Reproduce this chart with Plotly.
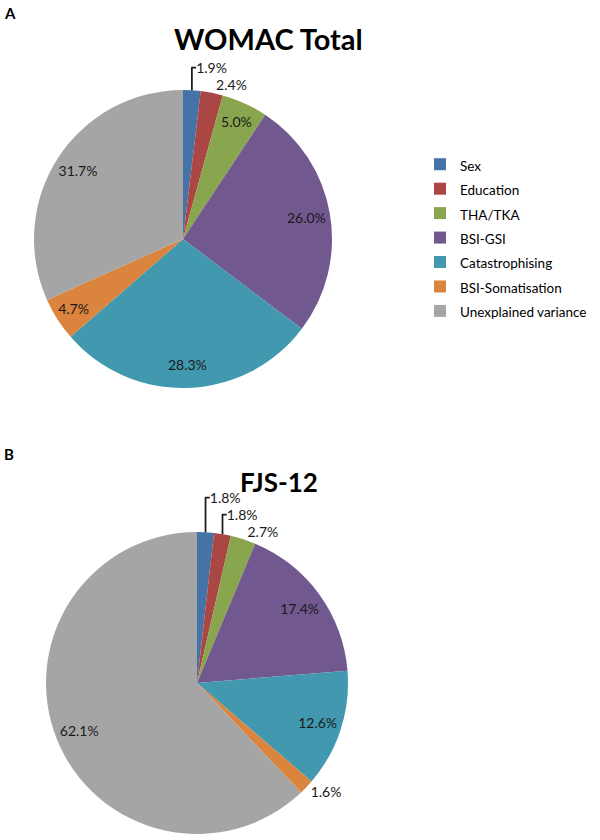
import plotly.graph_objects as go

categories = ["Sex", "Education", "THA/TKA", "BSI-GSI", "Catastrophising",
              "BSI-Somatisation", "Unexplained variance"]
womac_values = [1.9, 2.4, 5.0, 26.0, 28.3, 4.7, 31.7]
fjs_values = [1.8, 1.8, 2.7, 17.4, 12.6, 1.6, 62.1]
womac_textpos = ["outside", "outside", "inside", "inside", "inside", "inside", "inside"]
fjs_textpos = ["outside", "outside", "outside", "inside", "inside", "outside", "inside"]
colors = ["#4572A7", "#AA4643", "#89A54E", "#71588F", "#4198AF", "#DB843D", "#A5A5A5"]

FONT = "Lato"
W, H = 600, 840

def px_dom(x0, x1, ytop, ybot):
    return dict(x=[x0 / W, x1 / W], y=[(H - ybot) / H, (H - ytop) / H])

dom_a = px_dom(34, 332, 90, 388)
dom_b = px_dom(46, 348, 532, 834)

legend_labels = [f"<span style='font-size:13.5px'>{c}</span>" for c in categories]

fig = go.Figure()

for vals, dom, tpos, leg in [(womac_values, dom_a, womac_textpos, "legend"),
                             (fjs_values, dom_b, fjs_textpos, "legend2")]:
    fig.add_trace(go.Pie(
        labels=legend_labels, values=vals, domain=dom, sort=False,
        direction="clockwise", rotation=0,
        marker=dict(colors=colors, line=dict(width=0)),
        textinfo="none", legend=leg, showlegend=True, hoverinfo="skip",
    ))
    fig.add_trace(go.Pie(
        labels=legend_labels, values=vals, domain=dom, sort=False,
        direction="clockwise", rotation=0, hole=0.68,
        marker=dict(colors=["rgba(0,0,0,0)"] * len(vals), line=dict(width=0)),
        texttemplate="%{value:.1f}%", textposition=tpos,
        insidetextorientation="horizontal",
        textfont=dict(family=FONT, size=14, color="#1a1a1a"),
        showlegend=False, hoverinfo="skip",
    ))

fig.update_layout(
    width=W, height=H,
    margin=dict(l=0, r=0, t=0, b=0),
    paper_bgcolor="white", plot_bgcolor="white",
    font=dict(family=FONT, color="#000000"),
    uniformtext=dict(minsize=14, mode="show"),
    legend=dict(x=420 / W, y=(H - 147) / H, xanchor="left", yanchor="top",
                font=dict(family=FONT, size=16.5, color="#000000"),
                bgcolor="rgba(0,0,0,0)"),
    legend2=dict(x=420 / W, y=(H - 596) / H, xanchor="left", yanchor="top",
                 font=dict(family=FONT, size=15.4, color="#000000"),
                 bgcolor="rgba(0,0,0,0)"),
    annotations=[
        dict(text="<b>A</b>", x=2 / W, y=(H - 2) / H, xref="paper", yref="paper",
             xanchor="left", yanchor="top", showarrow=False,
             font=dict(family=FONT, size=15, color="#000000")),
        dict(text="<b>B</b>", x=2 / W, y=(H - 443) / H, xref="paper", yref="paper",
             xanchor="left", yanchor="top", showarrow=False,
             font=dict(family=FONT, size=15, color="#000000")),
        dict(text="<b>WOMAC Total</b>", x=268 / W, y=(H - 39) / H, xref="paper", yref="paper",
             xanchor="center", yanchor="middle", showarrow=False,
             font=dict(family=FONT, size=29, color="#000000")),
        dict(text="<b>FJS-12</b>", x=279 / W, y=(H - 482) / H, xref="paper", yref="paper",
             xanchor="center", yanchor="middle", showarrow=False,
             font=dict(family=FONT, size=26, color="#000000")),
    ],
)

fig.write_html("out.html", config={"displayModeBar": False},
               post_script="document.body.style.margin='0';document.body.style.padding='0';")
